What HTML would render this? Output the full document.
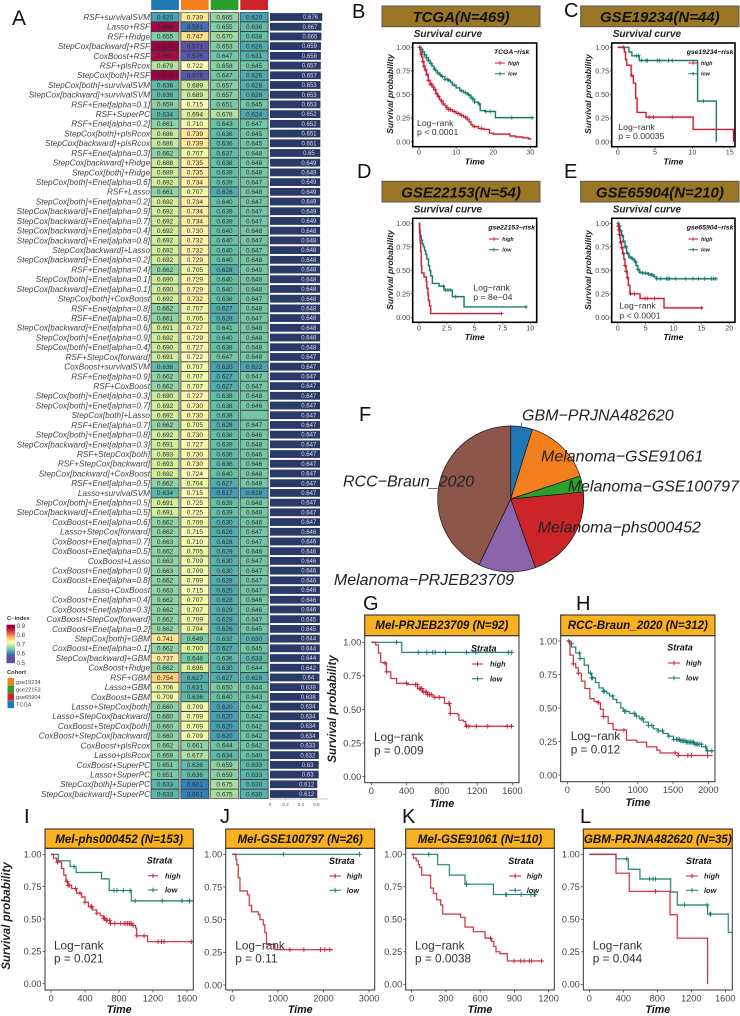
<!DOCTYPE html>
<html lang="en">
<head>
<meta charset="utf-8">
<title>Prognostic model C-index heatmap and survival curves</title>
<style>
html,body{margin:0;padding:0;background:#fff;width:740px;height:1016px;overflow:hidden}
svg{display:block;font-family:"Liberation Sans",Arial,sans-serif}
</style>
</head>
<body>
<svg id="fig" xmlns="http://www.w3.org/2000/svg" width="740" height="1016" viewBox="0 0 740 1016">
<defs><linearGradient id="cbar" x1="0" y1="1" x2="0" y2="0"></linearGradient></defs>
</svg>
<script>
// ---------- Panel A data ----------
const modelNames=["RSF+survivalSVM","Lasso+RSF","RSF+Ridge","StepCox[backward]+RSF","CoxBoost+RSF","RSF+plsRcox","StepCox[both]+RSF","StepCox[both]+survivalSVM","StepCox[backward]+survivalSVM","RSF+Enet[alpha=0.1]","RSF+SuperPC","RSF+Enet[alpha=0.2]","StepCox[both]+plsRcox","StepCox[backward]+plsRcox","RSF+Enet[alpha=0.3]","StepCox[backward]+Ridge","StepCox[both]+Ridge","StepCox[both]+Enet[alpha=0.6]","RSF+Lasso","StepCox[both]+Enet[alpha=0.2]","StepCox[backward]+Enet[alpha=0.9]","StepCox[backward]+Enet[alpha=0.7]","StepCox[backward]+Enet[alpha=0.4]","StepCox[backward]+Enet[alpha=0.8]","StepCox[backward]+Lasso","StepCox[backward]+Enet[alpha=0.2]","RSF+Enet[alpha=0.4]","StepCox[both]+Enet[alpha=0.1]","StepCox[backward]+Enet[alpha=0.1]","StepCox[both]+CoxBoost","RSF+Enet[alpha=0.8]","RSF+Enet[alpha=0.6]","StepCox[backward]+Enet[alpha=0.6]","StepCox[both]+Enet[alpha=0.9]","StepCox[both]+Enet[alpha=0.4]","RSF+StepCox[forward]","CoxBoost+survivalSVM","RSF+Enet[alpha=0.9]","RSF+CoxBoost","StepCox[both]+Enet[alpha=0.3]","StepCox[both]+Enet[alpha=0.7]","StepCox[both]+Lasso","RSF+Enet[alpha=0.7]","StepCox[both]+Enet[alpha=0.8]","StepCox[backward]+Enet[alpha=0.3]","RSF+StepCox[both]","RSF+StepCox[backward]","StepCox[backward]+CoxBoost","RSF+Enet[alpha=0.5]","Lasso+survivalSVM","StepCox[both]+Enet[alpha=0.5]","StepCox[backward]+Enet[alpha=0.5]","CoxBoost+Enet[alpha=0.6]","Lasso+StepCox[forward]","CoxBoost+Enet[alpha=0.7]","CoxBoost+Enet[alpha=0.5]","CoxBoost+Lasso","CoxBoost+Enet[alpha=0.9]","CoxBoost+Enet[alpha=0.8]","Lasso+CoxBoost","CoxBoost+Enet[alpha=0.4]","CoxBoost+Enet[alpha=0.3]","CoxBoost+StepCox[forward]","CoxBoost+Enet[alpha=0.2]","StepCox[both]+GBM","CoxBoost+Enet[alpha=0.1]","StepCox[backward]+GBM","CoxBoost+Ridge","RSF+GBM","Lasso+GBM","CoxBoost+GBM","Lasso+StepCox[both]","Lasso+StepCox[backward]","CoxBoost+StepCox[both]","CoxBoost+StepCox[backward]","CoxBoost+plsRcox","Lasso+plsRcox","CoxBoost+SuperPC","Lasso+SuperPC","StepCox[both]+SuperPC","StepCox[backward]+SuperPC"];
const tcgaCindex=[.620,.866,.655,.874,.862,.679,.873,.636,.636,.659,.634,.661,.686,.686,.662,.688,.689,.692,.661,.692,.692,.692,.692,.692,.692,.692,.662,.690,.690,.692,.662,.661,.691,.692,.690,.691,.636,.662,.662,.690,.692,.692,.662,.692,.691,.693,.693,.692,.662,.634,.691,.691,.662,.662,.663,.662,.663,.663,.662,.663,.662,.662,.662,.662,.741,.662,.737,.662,.754,.706,.709,.660,.660,.660,.660,.662,.659,.651,.651,.633,.633];
const gse19234Cindex=[.739,.591,.747,.571,.576,.722,.576,.689,.689,.715,.694,.710,.739,.739,.707,.735,.735,.734,.707,.734,.734,.734,.730,.732,.732,.729,.705,.729,.729,.732,.707,.705,.727,.729,.727,.722,.707,.707,.707,.727,.730,.730,.705,.730,.727,.730,.730,.724,.704,.715,.725,.725,.709,.715,.710,.705,.709,.709,.709,.715,.707,.707,.709,.704,.649,.700,.646,.696,.627,.631,.636,.709,.709,.709,.709,.661,.677,.636,.636,.601,.601];
const gse22153Cindex=[.665,.655,.670,.653,.647,.658,.647,.657,.657,.651,.678,.643,.636,.636,.637,.638,.639,.639,.626,.640,.639,.639,.640,.640,.640,.640,.628,.640,.640,.638,.627,.628,.641,.640,.638,.647,.620,.627,.627,.638,.638,.638,.628,.638,.639,.636,.636,.640,.627,.617,.639,.639,.630,.626,.628,.629,.630,.630,.628,.625,.628,.629,.628,.626,.632,.627,.636,.630,.627,.650,.640,.620,.620,.620,.620,.644,.634,.659,.659,.675,.675];
const gse65904Cindex=[.620,.636,.638,.626,.631,.645,.626,.628,.628,.645,.624,.647,.645,.645,.648,.648,.648,.647,.648,.647,.647,.647,.648,.647,.647,.648,.649,.648,.648,.647,.648,.647,.648,.648,.648,.648,.622,.647,.647,.648,.646,null,.647,.646,.648,.646,.646,.648,.648,.618,.648,.648,.646,.647,.647,.646,.647,.647,.647,.647,.646,.646,.647,.645,.630,.645,.633,.644,.628,.644,.643,.642,.642,.642,.642,.642,.640,.633,.633,.630,.630];
const meanCindex=[.676,.667,.665,.659,.658,.657,.657,.653,.653,.653,.652,.652,.651,.651,.65,.649,.649,.649,.649,.649,.649,.649,.648,.648,.648,.648,.648,.648,.648,.648,.648,.648,.648,.648,.648,.647,.647,.647,.647,.647,.647,.647,.647,.647,.647,.647,.647,.647,.647,.647,.647,.647,.647,.646,.646,.646,.646,.646,.646,.646,.646,.646,.645,.645,.644,.644,.644,.642,.64,.639,.638,.634,.634,.634,.634,.633,.632,.63,.63,.612,.612];
const barTickValues=[0,0.2,0.4,0.6];
const cindexLegendTicks=[0.9,0.8,0.7,0.6,0.5];
const cohortNames=["gse19234","gse22153","gse65904","TCGA"];
// ---------- Panel F data ----------
const pieLabels=["GBM\u2212PRJNA482620","Melanoma\u2212GSE91061","Melanoma\u2212GSE100797","Melanoma\u2212phs000452","Melanoma\u2212PRJEB23709","RCC\u2212Braun_2020"];
const pieCounts=[35,110,26,153,92,312];
// ---------- Survival axis labels ----------
const survTicks=["0.00","0.25","0.50","0.75","1.00"];
const tcgaXTicks=["0","10","20","30"];
const gse19234XTicks=["0","5","10","15"];
const gse22153XTicks=["0","2.5","5","7.5","10"];
const gse65904XTicks=["0","5","10","15","20"];
const prjebXTicks=["0","400","800","1200","1600"];
const braunXTicks=["0","500","1000","1500","2000"];
const phsXTicks=["0","400","800","1200","1600"];
const gse100797XTicks=["0","1000","2000","3000"];
const gse91061XTicks=["0","300","600","900","1200"];
const gbmXTicks=["0","400","800","1200","1600"];
// ---------- Survival series (time, survival, censor times) ----------
const tcgaHighTime=[0,.3,.5,.7,1,1.3,1.6,2,2.5,3,3.5,4,4.5,5,5.5,6,6.5,7,7.5,8,9,10,11,12,13,13.5,14,14.5,16,17.5,19,20,24.5,26,28,29.5,30];
const tcgaHighSurv=[1,.97,.93,.90,.85,.80,.76,.71,.65,.61,.58,.55,.51,.48,.45,.43,.40,.38,.36,.34,.32,.30,.28,.26,.24,.21,.18,.16,.14,.13,.09,.08,.06,.05,.04,.03,.02];
const tcgaHighCensor=[.2,.5,1,1.3,1.8,2.2,2.5,3,3.4,3.9,4.4,4.8,5.3,6,6.5,7.5,8,8.5,9.5,10.5,11.5,12.5,13,15,16.8];
const tcgaLowTime=[0,.5,1,1.5,2,2.5,3,3.5,4,4.5,5,5.5,6,7,8,8.5,9,10,11,12,13,13.5,14,14.5,15,16,16.5,18,20.6,30.7];
const tcgaLowSurv=[1,.98,.95,.92,.89,.86,.83,.80,.77,.75,.73,.71,.69,.66,.65,.63,.60,.57,.54,.52,.50,.49,.47,.45,.42,.40,.33,.32,.255,.255];
const tcgaLowCensor=[.2,.6,1,1.5,2,2.5,3.2,4.2,5,5.7,6.3,7,7.6,8,9.5,11.5,12.5,13.3,14,14.5,15,16.2,18,19.2,25,30.5];
const gse19234HighTime=[0,.9,1.05,1.2,1.8,2.1,2.4,2.6,3.8,10.1,15.5,15.5];
const gse19234HighSurv=[1,.95,.87,.81,.70,.62,.46,.31,.26,.13,.13,0];
const gse19234HighCensor=[.75,1.9,4.2,4.8,7.3];
const gse19234LowTime=[0,1.5,1.9,2.9,10.7,13.2];
const gse19234LowSurv=[1,.95,.91,.86,.43,0];
const gse19234LowCensor=[2.5,2.8,3.2,3.8,4,5.3,5.6,6.8,7.3,11.5];
const gse22153HighTime=[0,.05,.1,.15,.2,.25,.45,.65,.7,.8,.85,.95,1.05,7.5];
const gse22153HighSurv=[1,.9,.8,.7,.55,.47,.43,.38,.31,.24,.18,.12,.04,.04];
const gse22153HighCensor=[7.4];
const gse22153LowTime=[0,.05,.1,.2,.3,.4,.5,.6,.7,.85,.95,1.05,1.2,1.8,2.25,3,4.05,9.7];
const gse22153LowSurv=[1,.93,.87,.82,.78,.75,.71,.67,.62,.55,.50,.44,.36,.33,.29,.22,.11,.11];
const gse22153LowCensor=[2.2,2.4,2.6,2.8,3.3,9.6];
const gse65904HighTime=[0,.1,.2,.3,.4,.5,.7,.9,1.1,1.3,1.5,1.7,1.9,2.2,4,8.3,15.3];
const gse65904HighSurv=[1,.97,.93,.88,.84,.80,.74,.68,.62,.55,.49,.42,.34,.25,.20,.10,.10];
const gse65904HighCensor=[.1,.2,.3,.5,.7,1,1.3,1.5,1.8,2.3,3,4.9,5.3,6.6,15];
const gse65904LowTime=[0,.2,.4,.7,1,1.3,1.6,2,2.5,3,3.3,3.6,3.9,4.5,5.5,6,6.5,7,17.7];
const gse65904LowSurv=[1,.97,.92,.87,.81,.75,.68,.64,.62,.59,.55,.51,.48,.47,.46,.45,.43,.41,.41];
const gse65904LowCensor=[.1,.3,.5,.8,1,1.3,1.5,1.8,2.2,2.7,3.2,3.6,4,4.5,5,5.5,6,6.3,7,7.7,8.8,9,9.3,10.4,12.2,13.5,14.5,15.6,16.8,17.2,17.6];
const prjebHighTime=[0,50,80,107,156,171,221,286,411,525,580,640,700,830,887,895,983,994,1047,1070,1600];
const prjebHighSurv=[1,.98,.92,.85,.845,.78,.73,.695,.685,.655,.63,.61,.59,.545,.53,.47,.46,.42,.41,.375,.375];
const prjebHighCensor=[156,175,400,500,520,545,560,575,590,610,625,640,660,680,720,770,880,885,895,1080,1105,1190,1320,1540,1590];
const prjebLowTime=[0,345,1600];
const prjebLowSurv=[1,.925,.925];
const prjebLowCensor=[285,533,629,697,724,842,1078,1185,1554,1592];
const braunHighTime=[0,38,85,120,156,200,250,320,380,440,470,510,580,650,700,770,840,985,1125,1270,1315,1575,2060];
const braunHighSurv=[1,.895,.83,.80,.76,.70,.645,.57,.55,.54,.49,.435,.385,.34,.335,.335,.26,.245,.21,.185,.165,.145,.145];
const braunHighCensor=[85,156,440,510,803,1530,1575,1710,1760,1990];
const braunLowTime=[0,30,61,120,180,240,300,345,400,450,510,560,600,650,700,760,795,880,960,1020,1080,1150,1220,1290,1360,1430,1505,1600,1690,1800,1905,1975,2060];
const braunLowSurv=[1,.98,.955,.91,.87,.82,.76,.725,.69,.65,.625,.61,.59,.565,.54,.50,.475,.46,.44,.42,.395,.37,.345,.33,.31,.29,.265,.255,.245,.23,.21,.18,.175];
const braunLowCensor=[20,60,170,180,330,345,360,510,525,640,810,830,950,980,1050,1070,1150,1200,1290,1350,1440,1510,1550,1570,1590,1610,1630,1650,1670,1690,1710,1730,1750,1770,1790,1810,1830,1850,1870,1900,1960,1990,2050];
const phsHighTime=[0,30,67,125,150,176,200,243,300,360,400,440,490,537,580,615,650,695,930,960,995,1008,1125,1137,1670];
const phsHighSurv=[1,.97,.94,.89,.84,.79,.76,.735,.70,.67,.63,.595,.57,.545,.525,.505,.49,.465,.465,.45,.43,.37,.37,.325,.325];
const phsHighCensor=[75,190,200,215,290,340,400,470,480,540,620,630,650,660,690,700,750,820,860,880,900,920,930,950,965,1010,1095,1260,1300,1330,1650];
const phsLowTime=[0,85,225,295,595,685,945,1670];
const phsLowSurv=[1,.95,.905,.86,.81,.72,.64,.64];
const phsLowCensor=[270,740,775,850,930,990,1310,1540,1630];
const gse100797HighTime=[0,80,100,130,168,330,372,423,570,606,680,715,750,935,2200];
const gse100797HighSurv=[1,.96,.92,.82,.72,.69,.61,.56,.54,.50,.46,.40,.31,.27,.27];
const gse100797HighCensor=[1263,1570,1934,2029,2139];
const gse100797LowTime=[0,2800];
const gse100797LowSurv=[1,1];
const gse100797LowCensor=[1120,2790];
const gse91061HighTime=[0,15,40,58,70,88,155,166,190,219,254,272,424,430,467,540,643,701,720,739,774,838,1145];
const gse91061HighSurv=[1,.97,.95,.92,.90,.84,.835,.74,.70,.65,.61,.54,.535,.515,.44,.405,.355,.33,.29,.25,.235,.18,.18];
const gse91061HighCensor=[690,897,955,985,1031,1052,1139];
const gse91061LowTime=[0,228,330,467,716,1090];
const gse91061LowSurv=[1,.92,.84,.77,.69,.69];
const gse91061LowCensor=[150,480,825,830,960,1045,1075,1080];
const gbmHighTime=[0,314,470,950,1035,1392];
const gbmHighSurv=[1,.855,.715,.535,.355,0];
const gbmHighCensor=[780];
const gbmLowTime=[0,314,459,596,957,1035,1392,1635,1680];
const gbmLowSurv=[1,.965,.885,.81,.71,.61,.54,.40,.40];
const gbmLowCensor=[440,710,750,780,1120,1385,1420,1430];

// ---------- Helpers ----------
const NS="http://www.w3.org/2000/svg";
const fig=document.getElementById("fig");
function mk(tag,attrs,parent){
  const el=document.createElementNS(NS,tag);
  for(const k in attrs)el.setAttribute(k,attrs[k]);
  (parent||fig).appendChild(el);
  return el;
}
function txt(str,x,y,size,opts,name,parent){
  const o=opts||{};
  const el=mk("text",{x:x,y:y,"font-size":size,fill:o.fill||"#333","text-anchor":o.anchor||"start"},parent);
  if(o.bold)el.setAttribute("font-weight","bold");
  if(o.italic)el.setAttribute("font-style","italic");
  if(o.rotate)el.setAttribute("transform","rotate(-90 "+x+" "+y+")");
  
  
  el.textContent=str;
  return el;
}
const BI={bold:true,italic:true,fill:"#111"};

// ---------- Colour scale ----------
const spectralStops=[[.57,"#5e4fa2"],[.605,"#3288bd"],[.64,"#66c2a5"],[.675,"#abdda4"],[.70,"#e6f598"],[.72,"#ffffbf"],[.745,"#fee08b"],[.775,"#fdae61"],[.80,"#f46d43"],[.83,"#d53e4f"],[.87,"#9e0142"]];
function hex2(c){return [parseInt(c.slice(1,3),16),parseInt(c.slice(3,5),16),parseInt(c.slice(5,7),16)];}
function cindexColor(v){
  if(v<=spectralStops[0][0])return spectralStops[0][1];
  for(let i=1;i<spectralStops.length;i++){
    if(v<=spectralStops[i][0]){
      const a=spectralStops[i-1],b=spectralStops[i],t=(v-a[0])/(b[0]-a[0]),p=hex2(a[1]),q=hex2(b[1]);
      return "rgb("+[0,1,2].map(j=>Math.round(p[j]+(q[j]-p[j])*t)).join(",")+")";
    }
  }
  return spectralStops[spectralStops.length-1][1];
}

// ---------- Panel A ----------
const rowY=i=>17+i*9.7125;
const barX=v=>270+v*77.3;
const heatColumns=[
 {name:"tcga",vals:tcgaCindex,x:151.2,head:"#1f77b4"},
 {name:"gse19234",vals:gse19234Cindex,x:181,head:"#f47f1f"},
 {name:"gse22153",vals:gse22153Cindex,x:210.7,head:"#2ca02c"},
 {name:"gse65904",vals:gse65904Cindex,x:240.3,head:"#cc2529"}
];
const CW=27.7,RH=9.7125;
heatColumns.forEach(col=>{
  const gutter=mk("rect",{x:col.x-1,y:12,width:CW+2,height:rowY(modelNames.length-1)+RH/2-12,fill:"#b4b4b4"});
  
  
  const head=mk("rect",{x:col.x,y:0,width:CW,height:10,fill:col.head});
  
  
});
modelNames.forEach((label,i)=>{
  txt(label,150,rowY(i)+2.9,8.2,{italic:true,anchor:"end",fill:"#444"},"model-label");
  heatColumns.forEach(col=>{
    const v=col.vals[i];
    const fillVal=v===null?0.647:v;
    const cell=mk("rect",{x:col.x,y:rowY(i)-RH/2+.2,width:CW,height:RH-.4,fill:cindexColor(fillVal),stroke:"#2f3b3a","stroke-width":.55});
    
    
    if(v!==null)txt(v.toFixed(3),col.x+CW/2,rowY(i)+2.3,6.5,{anchor:"middle",fill:"#2a2a2a"},"cell-value");
  });
  const bar=mk("rect",{x:barX(0),y:rowY(i)-3.9,width:barX(meanCindex[i])-barX(0),height:7.8,fill:"#2a3a68"});
  
  
  txt(String(meanCindex[i]),barX(meanCindex[i]*0.775),rowY(i)+2.1,6,{anchor:"middle",fill:"#d9dce8"},"bar-value");
});
const barAxisY=799;
const barAxis=mk("line",{x1:270,y1:barAxisY,x2:328,y2:barAxisY,stroke:"#888","stroke-width":.6});


barTickValues.forEach(t=>{
  const tk=mk("line",{x1:barX(t),y1:barAxisY,x2:barX(t),y2:barAxisY+1.5,stroke:"#888","stroke-width":.5});
  
  
  txt(String(t),barX(t),barAxisY+7,4.6,{anchor:"middle",fill:"#555"},"bar-axis-tick-label");
});

// legend
txt("C\u2212index",7,620,5.8,{bold:true,fill:"#333"},"cindex-legend-title");
const grad=document.getElementById("cbar");
const legendY=v=>662.7-(v-0.5)*92.5;
for(let k=0;k<=40;k++){
  const v=0.5+k*0.01;
  const st=mk("stop",{offset:(k/40),"stop-color":cindexColor(v)},grad);
  
  
}
const cbar=mk("rect",{x:6.5,y:legendY(.9)-1,width:8.5,height:legendY(.5)-legendY(.9)+1.5,fill:"url(#cbar)"});


cindexLegendTicks.forEach(t=>{
  txt(String(t),16.5,legendY(t)+2.2,6.2,{fill:"#444"},"cindex-legend-label");
});
txt("Cohort",7,673.8,5.8,{bold:true,fill:"#333"},"cohort-legend-title");
const cohortColors=["#f47f1f","#2ca02c","#cc2529","#1f77b4"];
cohortNames.forEach((c,i)=>{
  const s=mk("rect",{x:7.5,y:678+i*7.6,width:6.5,height:7.4,fill:cohortColors[i]});
  
  
  txt(c,16,683.8+i*7.6,5.6,{fill:"#444"},"cohort-legend-label");
});

// ---------- Panel letters ----------
[["A",12,25,21],["B",352,18,20],["C",564,17,20],["D",357,178,20],["E",564,178,20],["F",359,421,20],["G",363,610,20],["H",576,610,20],["I",24,823,20],["J",220,823,20],["K",402,823,20],["L",580,823,20]].forEach(p=>{
  txt(p[0],p[1],p[2],p[3],{fill:"#111"},"panel-letter-"+p[0].toLowerCase());
});

// ---------- Panel F ----------
const pieColors=["#1f77b4","#f47f1f","#2ca02c","#cc2529","#8c64aa","#8c564b"];
const PCX=510.7,PCY=499,PR=73;
const pieTotal=pieCounts.reduce((a,b)=>a+b,0);
const pieAngle=c=>c/pieTotal*2*Math.PI;
let pieAcc=0;
pieCounts.forEach((c,i)=>{
  const a0=pieAngle(pieAcc),a1=pieAngle(pieAcc+c);
  pieAcc+=c;
  const large=a1-a0>Math.PI?1:0;
  const d="M"+PCX+" "+PCY+"L"+(PCX+PR*Math.sin(a0))+" "+(PCY-PR*Math.cos(a0))+"A"+PR+" "+PR+" 0 "+large+" 1 "+(PCX+PR*Math.sin(a1))+" "+(PCY-PR*Math.cos(a1))+"Z";
  const slice=mk("path",{d:d,fill:pieColors[i],stroke:"#111","stroke-width":.7});
  
  
});
const leaderA=mk("line",{x1:522,y1:422.5,x2:521,y2:426.7,stroke:"#333","stroke-width":.6});


const leaderB=mk("line",{x1:428,y1:488.3,x2:437.5,y2:488.3,stroke:"#555","stroke-width":.6});


const pieLabelPos=[[522,420.7,"start"],[541,461.7,"start"],[567.7,491.7,"start"],[537.7,532.3,"start"],[514,585,"end"],[343,486.7,"start"]];
pieLabels.forEach((l,i)=>{
  txt(l,pieLabelPos[i][0],pieLabelPos[i][1],16,{italic:true,fill:"#222",anchor:pieLabelPos[i][2]},"pie-label");
});

// ---------- Survival panels ----------
const HIGH="#c81e34",LOW="#147a6c";
function stepAt(times,surv,t){
  let s=surv[0];
  for(let i=0;i<times.length;i++){if(times[i]<=t)s=surv[i];else break;}
  return s;
}
function drawCurve(p,times,surv,censor,color,lw,cs){
  const X=t=>p.x0+t*p.k;
  const Y=s=>p.y0-s*(p.y0-p.y1);
  let d="M"+X(times[0])+" "+Y(surv[0]);
  for(let i=1;i<times.length;i++)d+="H"+X(times[i])+"V"+Y(surv[i]);
  const halo=mk("path",{d:d,fill:"none",stroke:color,"stroke-width":lw+1,"stroke-opacity":.25});
  
  
  const line=mk("path",{d:d,fill:"none",stroke:color,"stroke-width":lw});
  
  
  censor.forEach(t=>{
    const x=X(t),y=Y(stepAt(times,surv,t));
    const m=mk("path",{d:"M"+(x-cs)+" "+y+"H"+(x+cs)+"M"+x+" "+(y-cs)+"V"+(y+cs),stroke:color,"stroke-width":.9,fill:"none"});
    
    
  });
}
function drawKM(p){
  const big=p.style==="strip";
  const stripFill=big?"#f9b121":"#9a7626";
  const strip=mk("rect",{x:p.strip[0],y:p.strip[2],width:p.strip[1]-p.strip[0],height:p.strip[3]-p.strip[2],fill:stripFill,stroke:big?"#222":"#555","stroke-width":1});
  
  
  txt(p.title,(p.strip[0]+p.strip[1])/2+(p.titleDx||0),p.titleBase,big?11.6:15,{bold:true,italic:true,fill:"#111",anchor:"middle"},"panel-title");
  if(!big)txt("Survival curve",p.box[0]+1,p.box[2]-6,10,{bold:true,italic:true,fill:"#222"},"panel-subtitle");

  const X=t=>p.x0+t*p.k;
  const Y=s=>p.y0-s*(p.y0-p.y1);
  const tl=big?2.5:2;
  const tickColor="#333";
  p.xTicks.forEach(lbl=>{
    const x=X(Number(lbl));
    const tk=mk("line",{x1:x,y1:p.box[3],x2:x,y2:p.box[3]+tl,stroke:tickColor,"stroke-width":.7});
    
    
    txt(lbl,x,p.box[3]+(big?11.5:8),big?9.2:7.2,{anchor:"middle",fill:"#444"},"x-tick-label");
  });
  survTicks.forEach(lbl=>{
    const y=Y(Number(lbl));
    const tk=mk("line",{x1:p.box[0]-tl,y1:y,x2:p.box[0],y2:y,stroke:tickColor,"stroke-width":.7});
    
    
    txt(lbl,p.box[0]-(big?3.5:2.5),y+(big?3.3:2.6),big?9.2:7.2,{anchor:"end",fill:"#444"},"y-tick-label");
  });
  txt("Time",(p.box[0]+p.box[1])/2,p.timeBase,big?10.7:8.6,{bold:true,italic:true,fill:"#111",anchor:"middle"},"x-axis-title");
  if(p.yLabel)txt("Survival probability",p.yLabel[0],p.yLabel[1],big?11.6:8.6,{bold:true,italic:true,fill:"#222",anchor:"middle",rotate:true},"y-axis-title");

  drawCurve(p,p.lowT,p.lowS,p.lowC,LOW,big?.9:1.2,big?2.4:2);
  drawCurve(p,p.highT,p.highS,p.highC,HIGH,big?.9:1.2,big?2.4:2);

  const frame=mk("rect",{x:p.box[0],y:p.box[2],width:p.box[1]-p.box[0],height:p.box[3]-p.box[2],fill:"none",stroke:big?"#333":"#000","stroke-width":big?1:1.6});
  
  

  const fs=big?11.8:8.7;
  txt("Log\u2212rank",p.log[0],p.log[1],fs,{fill:"#333"},"logrank-label");
  txt(p.pval,p.log[0],p.log[2],fs,{fill:"#333"},"logrank-p-value");

  const L=p.leg;
  txt(L.title,L.tx,L.ty,big?9:6.8,BI,"legend-title");
  [["high",HIGH,L.y1],["low",LOW,L.y2]].forEach(e=>{
    const key=mk("path",{d:"M"+L.kx0+" "+e[2]+"H"+L.kx1+"M"+((L.kx0+L.kx1)/2)+" "+(e[2]-(big?2.2:1.8))+"V"+(e[2]+(big?2.2:1.8)),stroke:e[1],"stroke-width":1,fill:"none"});
    
    
    txt(e[0],L.lx,e[2]+(big?2.6:1.9),big?7.4:5.4,{bold:true,italic:true,fill:"#222"},"legend-label-"+e[0]);
  });
}
const topStrip=(a,b,t)=>[a,b,t,t+20.7];
drawKM({style:"top",title:"TCGA(N=469)",titleBase:22,strip:topStrip(382,540,6),box:[412.7,536.7,43,146.7],x0:419,k:3.71,y0:141.7,y1:47.3,xTicks:tcgaXTicks,timeBase:164.7,yLabel:[393,94],
 highT:tcgaHighTime,highS:tcgaHighSurv,highC:tcgaHighCensor,lowT:tcgaLowTime,lowS:tcgaLowSurv,lowC:tcgaLowCensor,
 log:[417,126,135],pval:"p < 0.0001",leg:{title:"TCGA\u2212risk",tx:494,ty:54,kx0:495,kx1:505,lx:508,y1:63,y2:73.7}});
drawKM({style:"top",title:"GSE19234(N=44)",titleBase:22,strip:topStrip(580.7,739,6),box:[611.7,735,43,146.7],x0:617.7,k:7.47,y0:141.7,y1:47.3,xTicks:gse19234XTicks,timeBase:164.7,yLabel:[591,94],
 highT:gse19234HighTime,highS:gse19234HighSurv,highC:gse19234HighCensor,lowT:gse19234LowTime,lowS:gse19234LowSurv,lowC:gse19234LowCensor,
 log:[618.3,130,139],pval:"p = 0.00035",leg:{title:"gse19234\u2212risk",tx:686.7,ty:54,kx0:688.3,kx1:698,lx:701,y1:63,y2:73.7}});
drawKM({style:"top",title:"GSE22153(N=54)",titleBase:197.7,strip:topStrip(382,540,181.3),box:[412.7,536.7,218.3,322.3],x0:419,k:11.13,y0:317.3,y1:223.3,xTicks:gse22153XTicks,timeBase:340,yLabel:[393,270],
 highT:gse22153HighTime,highS:gse22153HighSurv,highC:gse22153HighCensor,lowT:gse22153LowTime,lowS:gse22153LowSurv,lowC:gse22153LowCensor,
 log:[473.3,290.7,300],pval:"p = 8e\u221204",leg:{title:"gse22153\u2212risk",tx:488.3,ty:229.5,kx0:489,kx1:499,lx:502.3,y1:239,y2:249.7}});
drawKM({style:"top",title:"GSE65904(N=210)",titleBase:197.7,strip:topStrip(580.7,739,181.3),box:[611.7,735,218.3,322.3],x0:617.7,k:5.58,y0:317.3,y1:223.3,xTicks:gse65904XTicks,timeBase:340,yLabel:[591,270],
 highT:gse65904HighTime,highS:gse65904HighSurv,highC:gse65904HighCensor,lowT:gse65904LowTime,lowS:gse65904LowSurv,lowC:gse65904LowCensor,
 log:[619.3,308.3,318.3],pval:"p < 0.0001",leg:{title:"gse65904\u2212risk",tx:686.7,ty:229.5,kx0:688.3,kx1:698,lx:701,y1:239,y2:249.7}});
drawKM({style:"strip",title:"Mel-PRJEB23709 (N=92)",titleBase:629,strip:[364.7,519,615,635.7],box:[364.7,519,635.7,782.7],x0:371.3,k:.0882,y0:776.6,y1:642.3,xTicks:prjebXTicks,timeBase:807,yLabel:[336,709],
 highT:prjebHighTime,highS:prjebHighSurv,highC:prjebHighCensor,lowT:prjebLowTime,lowS:prjebLowSurv,lowC:prjebLowCensor,
 log:[374,741,754.3],pval:"p = 0.009",leg:{title:"Strata",tx:471,ty:651.5,kx0:472,kx1:483,lx:490,y1:664,y2:678.7}});
drawKM({style:"strip",title:"RCC-Braun_2020 (N=312)",titleBase:629,strip:[560.7,715,615,635.7],box:[560.7,715,635.7,781.7],x0:567.3,k:.0705,y0:775,y1:641,xTicks:braunXTicks,timeBase:806,
 highT:braunHighTime,highS:braunHighSurv,highC:braunHighCensor,lowT:braunLowTime,lowS:braunLowSurv,lowC:braunLowCensor,
 log:[570.7,740,753.3],pval:"p = 0.012",leg:{title:"Strata",tx:667.3,ty:650.5,kx0:668,kx1:680,lx:686,y1:663,y2:678}});
drawKM({style:"strip",title:"Mel-phs000452 (N=153)",titleBase:843,strip:[45,193.3,829,848.3],box:[45,193.3,848.3,990],x0:51,k:.085,y0:983.7,y1:854.3,xTicks:phsXTicks,timeBase:1013,yLabel:[10,916],
 highT:phsHighTime,highS:phsHighSurv,highC:phsHighCensor,lowT:phsLowTime,lowS:phsLowSurv,lowC:phsLowCensor,
 log:[54,949.3,962.3],pval:"p = 0.021",leg:{title:"Strata",tx:146.7,ty:863.5,kx0:148,kx1:158,lx:165,y1:875.7,y2:890}});
drawKM({style:"strip",title:"Mel-GSE100797 (N=26)",titleBase:843,strip:[225.7,374.7,829,848.3],box:[225.7,374.7,848.3,990],x0:232.3,k:.0456,y0:985,y1:854.3,xTicks:gse100797XTicks,timeBase:1013,
 highT:gse100797HighTime,highS:gse100797HighSurv,highC:gse100797HighCensor,lowT:gse100797LowTime,lowS:gse100797LowSurv,lowC:gse100797LowCensor,
 log:[235.3,949.3,962.7],pval:"p = 0.11",leg:{title:"Strata",tx:329,ty:864,kx0:329.3,kx1:341,lx:346.7,y1:876,y2:890.3}});
drawKM({style:"strip",title:"Mel-GSE91061 (N=110)",titleBase:843,strip:[405.7,554.3,829,848.3],box:[405.7,554.3,848.3,990],x0:411.7,k:.1141,y0:984.3,y1:854.3,xTicks:gse91061XTicks,timeBase:1013,
 highT:gse91061HighTime,highS:gse91061HighSurv,highC:gse91061HighCensor,lowT:gse91061LowTime,lowS:gse91061LowSurv,lowC:gse91061LowCensor,
 log:[415,949.3,962.7],pval:"p = 0.0038",leg:{title:"Strata",tx:508.3,ty:864,kx0:509.3,kx1:521,lx:526.7,y1:876,y2:890.3}});
drawKM({style:"strip",title:"GBM-PRJNA482620 (N=35)",titleBase:843,strip:[583.3,732.3,829,848.3],box:[583.3,732.3,848.3,990],x0:589.3,k:.085,y0:984.3,y1:854.3,xTicks:gbmXTicks,timeBase:1013,
 highT:gbmHighTime,highS:gbmHighSurv,highC:gbmHighCensor,lowT:gbmLowTime,lowS:gbmLowSurv,lowC:gbmLowCensor,
 log:[592.7,949.3,962.7],pval:"p = 0.044",leg:{title:"Strata",tx:686,ty:864,kx0:686,kx1:698,lx:704,y1:876,y2:890.3}});
</script>
</body>
</html>
